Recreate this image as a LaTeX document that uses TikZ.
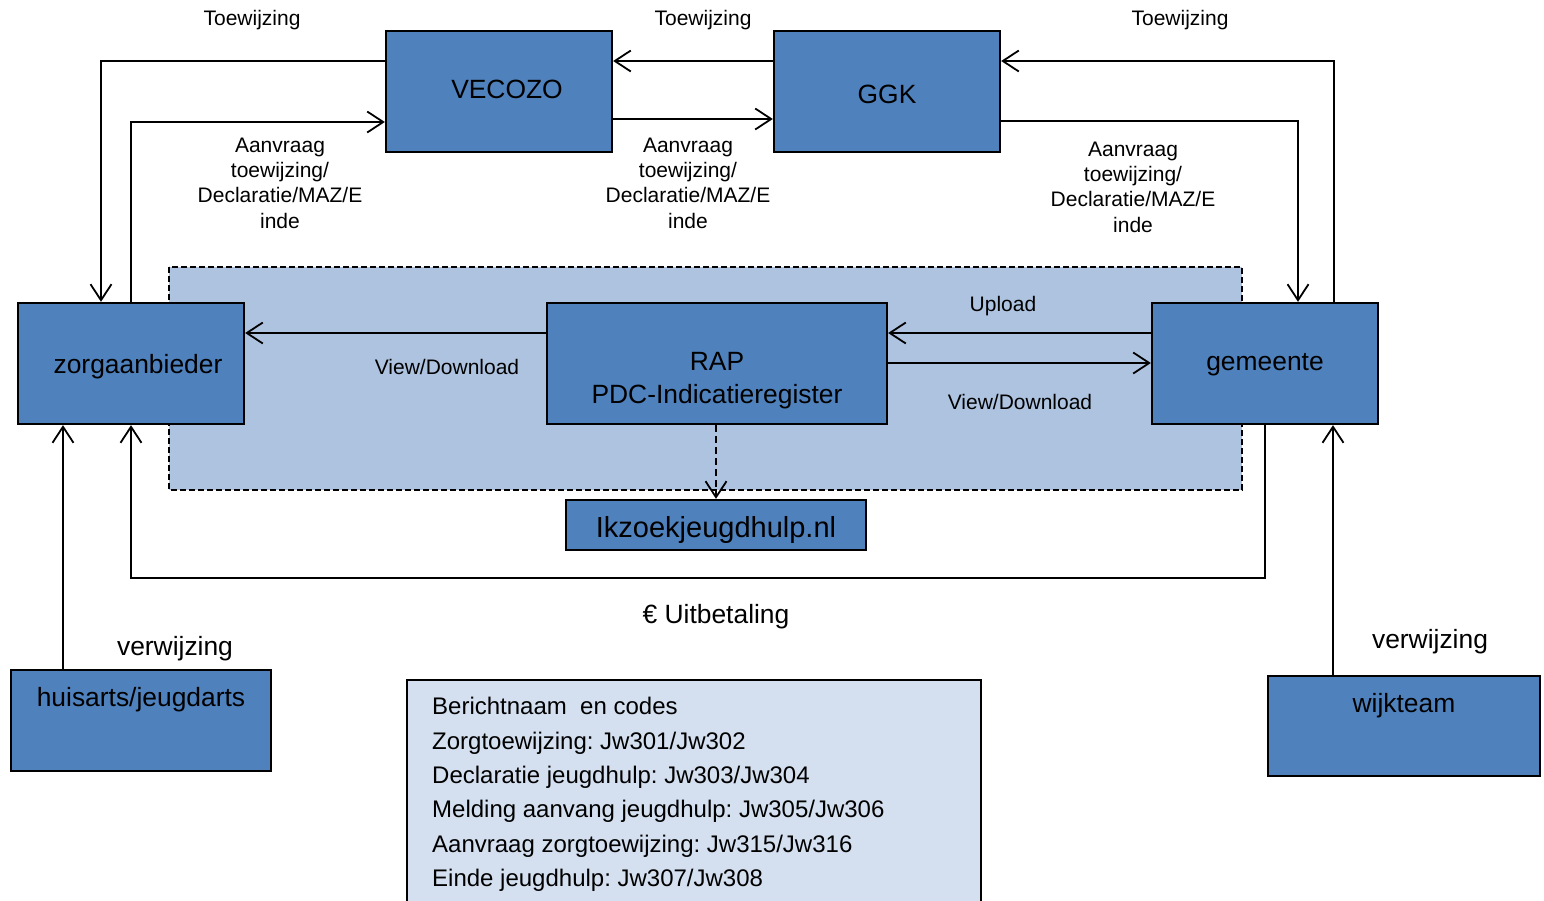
\documentclass[tikz,border=0pt]{standalone}
\usepackage{fontspec}
\setmainfont{Liberation Sans}
\usetikzlibrary{arrows.meta}
\definecolor{boxblue}{HTML}{4F81BD}
\definecolor{regionblue}{HTML}{ADC3E0}
\definecolor{legendblue}{HTML}{D4E0F0}
\frenchspacing
\begin{document}
\begin{tikzpicture}[x=1pt,y=-1pt,
  box/.style={draw=black,line width=2.3pt,fill=boxblue,inner sep=0pt,
    font=\fontsize{26.4}{33}\selectfont},
  small/.style={font=\fontsize{21}{25.3}\selectfont,inner sep=0pt,align=center},
  big/.style={font=\fontsize{26.4}{33}\selectfont,inner sep=0pt,align=center},
  conn/.style={line width=1.8pt,-{Straight Barb[length=16pt,width=21pt,line width=1.8pt]}},
  legendline/.style={font=\fontsize{24}{34.4}\selectfont,inner sep=0pt,anchor=base west}]
\useasboundingbox (0,0) rectangle (1544,900);
% region
\draw[fill=regionblue,line width=1.8pt,dash pattern=on 6pt off 3pt] (169,267) rectangle (1242,490);
% boxes
\node[box,minimum width=226pt,minimum height=121pt] (vec) at (499,91.5) {};
\node[big] (vect) at (507,89) {VECOZO};
\node[box,minimum width=226pt,minimum height=121pt] (ggk) at (887,91.5) {};
\node[big] (ggkt) at (887,94) {GGK};
\node[box,minimum width=226pt,minimum height=121pt] (zorg) at (131,363.5) {};
\node[big] (zorgt) at (138,367) {zorgaanbieder};
\node[box,minimum width=340pt,minimum height=121pt] (rap) at (717,363.5) {};
\node[big] (rapt) at (717,380.5) {RAP\\PDC-Indicatieregister};
\node[box,minimum width=226pt,minimum height=121pt] (gem) at (1265,363.5) {};
\node[big] (gemt) at (1265,365) {gemeente};
\node[box,minimum width=300pt,minimum height=50pt] (ik) at (716,525) {};
\node[inner sep=0pt,font=\fontsize{29}{33}\selectfont] (ikt) at (716,530) {Ikzoekjeugdhulp.nl};
\node[box,minimum width=260pt,minimum height=101pt] (huis) at (141,720.5) {};
\node[big] (huist) at (141,700) {huisarts/jeugdarts};
\node[box,minimum width=272pt,minimum height=100pt] (wijk) at (1404,726) {};
\node[big] (wijkt) at (1404,706) {wijkteam};
% legend
\draw[fill=legendblue,line width=1.5pt] (407,680) rectangle (981,905);
\node[legendline] (l1) at (432,714.6) {Berichtnaam\ \ en codes};
\node[legendline] (l2) at (432,749) {Zorgtoewijzing: Jw301/Jw302};
\node[legendline] (l3) at (432,783.4) {Declaratie jeugdhulp: Jw303/Jw304};
\node[legendline] (l4) at (432,817.8) {Melding aanvang jeugdhulp: Jw305/Jw306};
\node[legendline] (l5) at (432,852.2) {Aanvraag zorgtoewijzing: Jw315/Jw316};
\node[legendline] (l6) at (432,886.6) {Einde jeugdhulp: Jw307/Jw308};
% coordinates
\coordinate (c1) at (101,61);
\coordinate (c2) at (131,122);
\coordinate (c3) at (1334,61);
\coordinate (c4) at (1298,121);
\coordinate (c5) at (1265,578);
\coordinate (c6) at (131,578);
% connectors
\draw[conn] (vec.west |- 0,61) -- (c1) -- (c1 |- zorg.north);
\draw[conn] (zorg.north -| c2) -- (c2) -- (vec.west |- c2);
\draw[conn] (ggk.west |- 0,61) -- (vec.east |- 0,61);
\draw[conn] (vec.east |- 0,119) -- (ggk.west |- 0,119);
\draw[conn] (gem.north -| c3) -- (c3) -- (ggk.east |- c3);
\draw[conn] (ggk.east |- c4) -- (c4) -- (c4 |- gem.north);
\draw[conn] (rap.west |- 0,333) -- (zorg.east |- 0,333);
\draw[conn] (gem.west |- 0,333) -- (rap.east |- 0,333);
\draw[conn] (rap.east |- 0,363) -- (gem.west |- 0,363);
\draw[line width=1.8pt,dash pattern=on 7pt off 4pt,-{Straight Barb[length=16pt,width=21pt,line width=1.8pt]}] (rap.south -| ik.north) -- (ik.north);
\draw[conn] (gem.south -| c5) -- (c5) -- (c6) -- (c6 |- zorg.south);
\draw[conn] (huis.north -| 63,0) -- (zorg.south -| 63,0);
\draw[conn] (wijk.north -| 1333,0) -- (gem.south -| 1333,0);
% labels
\node[small] (t1) at (252,20) {Toewijzing};
\node[small] (t2) at (703,20) {Toewijzing};
\node[small] (t3) at (1180,20) {Toewijzing};
\node[small] (a1) at (280,183) {Aanvraag\\toewijzing/\\Declaratie/MAZ/E\\inde};
\node[small] (a2) at (688,183) {Aanvraag\\toewijzing/\\Declaratie/MAZ/E\\inde};
\node[small] (a3) at (1133,187) {Aanvraag\\toewijzing/\\Declaratie/MAZ/E\\inde};
\node[small] (vd1) at (447,367) {View/Download};
\node[small] (up) at (1003,306) {Upload};
\node[small] (vd2) at (1020,402) {View/Download};
\node[big] (uit) at (716,617) {€ Uitbetaling};
\node[big] (vw1) at (175,649) {verwijzing};
\node[big] (vw2) at (1430,642) {verwijzing};
\end{tikzpicture}
\end{document}
